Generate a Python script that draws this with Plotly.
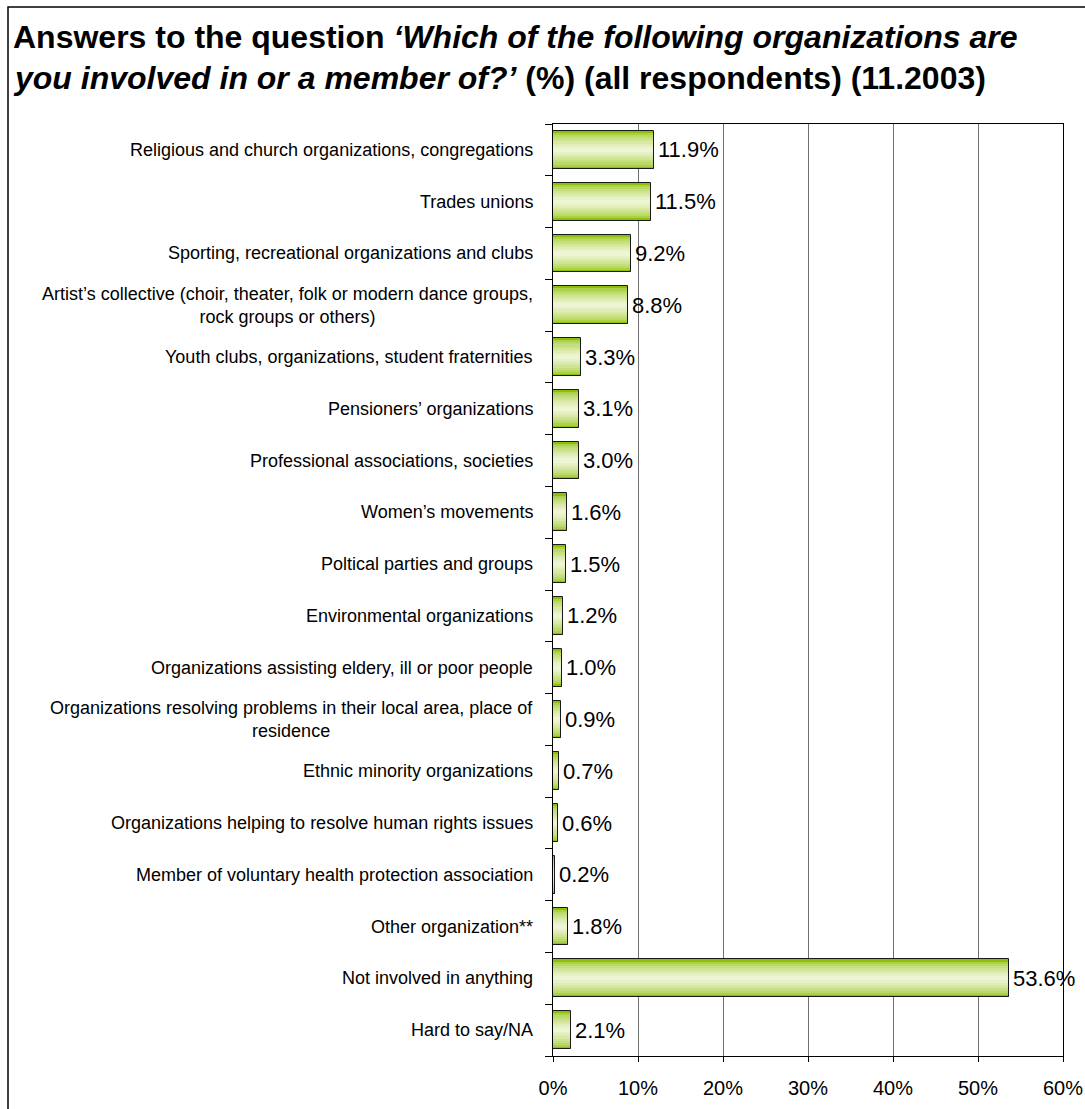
import plotly.graph_objects as go

categories = [
    "Religious and church organizations, congregations",
    "Trades unions",
    "Sporting, recreational organizations and clubs",
    "Artist’s collective (choir, theater, folk or modern dance groups,<br>rock groups or others)",
    "Youth clubs, organizations, student fraternities",
    "Pensioners’ organizations",
    "Professional associations, societies",
    "Women’s movements",
    "Poltical parties and groups",
    "Environmental organizations",
    "Organizations assisting eldery, ill or poor people",
    "Organizations resolving problems in their local area, place of<br>residence",
    "Ethnic minority organizations",
    "Organizations helping to resolve human rights issues",
    "Member of voluntary health protection association",
    "Other organization**",
    "Not involved in anything",
    "Hard to say/NA",
]
values = [11.9, 11.5, 9.2, 8.8, 3.3, 3.1, 3.0, 1.6, 1.5, 1.2, 1.0, 0.9, 0.7, 0.6, 0.2, 1.8, 53.6, 2.1]
value_labels = [f"{v:.1f}%" for v in values]
x_ticks = [0, 10, 20, 30, 40, 50, 60]
x_ticklabels = [f"{t}%" for t in x_ticks]

W, H = 1085, 1109
L, R, T, B = 553, 22, 124, 53
PW, PH = W - L - R, H - T - B
FONT = "Arial, Liberation Sans, sans-serif"

def px(x):
    return (x - L) / PW

def py(y):
    return (H - B - y) / PH

pos = list(range(len(categories)))

fig = go.Figure()

# gradient bars built from stacked overlays of the same data
BW = 0.73
N = 9
edge = (140, 192, 6)
center = (238, 245, 212)
for k in range(N):
    t = (k / (N - 1)) ** 0.55
    col = tuple(round(edge[i] + (center[i] - edge[i]) * t) for i in range(3))
    w = BW * (1 - k / N)
    fig.add_trace(go.Bar(
        x=values, y=pos, orientation="h", width=w,
        marker=dict(color=f"rgb{col}", line=dict(width=0)),
        hoverinfo="skip", showlegend=False,
    ))
# outline
fig.add_trace(go.Bar(
    x=values, y=pos, orientation="h", width=BW,
    marker=dict(color="rgba(0,0,0,0)", line=dict(color="#1a1a1a", width=1)),
    showlegend=False,
))

annotations = []
# value labels
for p, v, lab in zip(pos, values, value_labels):
    annotations.append(dict(
        x=v, y=p, xref="x", yref="y", text=lab, showarrow=False,
        xanchor="left", yanchor="middle", xshift=2,
        font=dict(family=FONT, size=22, color="#000"),
    ))
# category labels
for p, c in zip(pos, categories):
    annotations.append(dict(
        x=0, y=p, xref="paper", yref="y", text=c, showarrow=False,
        xanchor="right", yanchor="middle", align="center", xshift=-18,
        font=dict(family=FONT, size=18, color="#000"),
    ))
# title lines
annotations.append(dict(
    x=px(11), y=py(37), xref="paper", yref="paper", showarrow=False,
    xanchor="left", yanchor="middle", align="left",
    text="<b>Answers to the question <i>‘Which of the following organizations are</i></b>",
    font=dict(family=FONT, size=32, color="#000"),
))
annotations.append(dict(
    x=px(11), y=py(78), xref="paper", yref="paper", showarrow=False,
    xanchor="left", yanchor="middle", align="left",
    text="<b><i>you involved in or a member of?’</i> (%) (all respondents) (11.2003)</b>",
    font=dict(family=FONT, size=32, color="#000"),
))

fig.update_layout(
    width=W, height=H,
    margin=dict(l=L, r=R, t=T, b=B, pad=0, autoexpand=False),
    paper_bgcolor="white", plot_bgcolor="white",
    barmode="overlay", bargap=0,
    annotations=annotations,
    shapes=[dict(
        type="rect", xref="paper", yref="paper",
        x0=px(8), x1=px(W + 20), y0=py(H + 20), y1=py(7),
        line=dict(color="#000", width=1.5), fillcolor="rgba(0,0,0,0)", layer="above",
    )],
    xaxis=dict(
        range=[0, 60], tickmode="array", tickvals=x_ticks, ticktext=x_ticklabels,
        showgrid=True, gridcolor="#707070", gridwidth=1,
        showline=True, linecolor="#000", linewidth=1, mirror=True,
        ticks="outside", ticklen=5, tickcolor="#000",
        ticklabelstandoff=9, ticklabeloverflow="allow", automargin=False,
        tickfont=dict(family=FONT, size=20, color="#000"),
        zeroline=False, fixedrange=True,
    ),
    yaxis=dict(
        range=[len(categories) - 0.5, -0.5],
        tickmode="linear", tick0=0, dtick=1,
        showticklabels=False, ticks="", showgrid=False,
        showline=True, linecolor="#000", linewidth=1, mirror=True,
        minor=dict(ticks="outside", ticklen=7, tickcolor="#000",
                   tickmode="linear", tick0=-0.5, dtick=1, showgrid=False),
        zeroline=False, fixedrange=True, automargin=False,
    ),
    showlegend=False,
)

fig.write_html("out.html")
